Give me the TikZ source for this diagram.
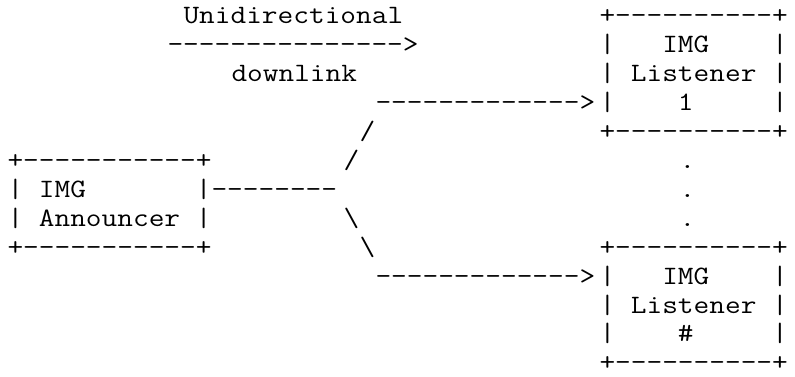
\documentclass[tikz,border=0pt]{standalone}
\usepackage{graphicx}
\tikzset{asc/.style={anchor=base west, inner sep=0pt, outer sep=0pt}}
\newcommand\asciiline[4]{%
  \node[asc] (#1) at ({7.5+16*#2},{352.5-28.95*#3})
    {\scalebox{1.15}[1]{\ttfamily\fontsize{26.5}{30}\selectfont #4}};}
\begin{document}
\begin{tikzpicture}[x=1pt,y=1pt]
\useasboundingbox (0,0) rectangle (795,376);
% top label and arrow
\asciiline{uni}{11}{0}{Unidirectional}
\asciiline{toparrow}{10}{1}{--------------->}
\asciiline{down}{14}{2}{downlink}
% listener 1 box
\asciiline{lonetop}{37}{0}{+----------+}
\asciiline{loneimg}{37}{1}{|~~~IMG~~~~|}
\asciiline{lonelis}{37}{2}{|~Listener~|}
\asciiline{lonenum}{37}{3}{|~~~~1~~~~~|}
\asciiline{lonebot}{37}{4}{+----------+}
% upper branch
\asciiline{arrowone}{23}{3}{------------->}
\asciiline{slasha}{22}{4}{/}
\asciiline{slashb}{21}{5}{/}
% announcer box
\asciiline{anntop}{0}{5}{+-----------+}
\asciiline{annimg}{0}{6}{|~IMG~~~~~~~|--------}
\asciiline{annname}{0}{7}{|~Announcer~|}
\asciiline{annbot}{0}{8}{+-----------+}
% lower branch
\asciiline{bslasha}{21}{7}{\textbackslash}
\asciiline{bslashb}{22}{8}{\textbackslash}
\asciiline{arrowtwo}{23}{9}{------------->}
% dots
\asciiline{dota}{42}{5}{.}
\asciiline{dotb}{42}{6}{.}
\asciiline{dotc}{42}{7}{.}
% listener # box
\asciiline{lntop}{37}{8}{+----------+}
\asciiline{lnimg}{37}{9}{|~~~IMG~~~~|}
\asciiline{lnlis}{37}{10}{|~Listener~|}
\asciiline{lnnum}{37}{11}{|~~~~\#~~~~~|}
\asciiline{lnbot}{37}{12}{+----------+}
\end{tikzpicture}
\end{document}
